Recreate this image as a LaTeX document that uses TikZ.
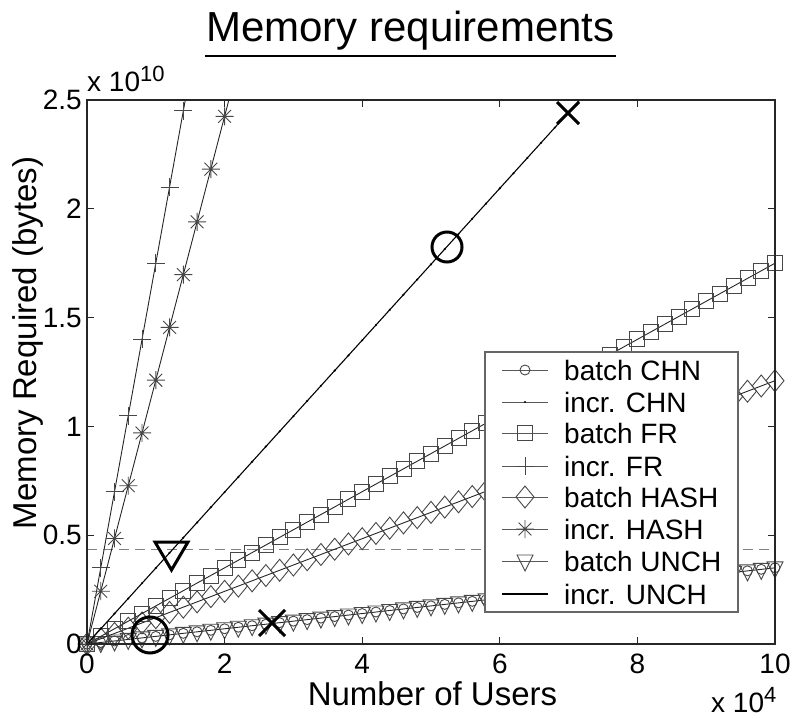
\documentclass[tikz,border=0pt]{standalone}
\usepackage{fontspec}
\setmainfont{Liberation Sans}
\begin{document}
\begin{tikzpicture}[x=1pt,y=1pt,
  dataline/.style={black!85, line width=0.9pt},
  mk/.style={black!72, line width=0.9pt},
  bigmk/.style={black, line width=3pt},
  ticklab/.style={font=\fontsize{28}{28}\selectfont, inner sep=0pt},
  leglab/.style={font=\fontsize{28}{28}\selectfont, anchor=west, inner sep=0pt},
  legline/.style={black!65, line width=0.9pt},
  mcirc/.pic={\draw[mk] (0,0) circle (5pt);},
  msq/.pic={\draw[mk] (-7.5pt,-7.5pt) rectangle (7.5pt,7.5pt);},
  mplus/.pic={\draw[mk] (-9pt,0) -- (9pt,0) (0,-9pt) -- (0,9pt);},
  mdia/.pic={\draw[mk] (-9pt,0) -- (0,11pt) -- (9pt,0) -- (0,-11pt) -- cycle;},
  mast/.pic={\draw[mk] (-9pt,0) -- (9pt,0) (0,-9pt) -- (0,9pt) (-6.4pt,-6.4pt) -- (6.4pt,6.4pt) (-6.4pt,6.4pt) -- (6.4pt,-6.4pt);},
  mtri/.pic={\draw[mk] (-8pt,6pt) -- (8pt,6pt) -- (0,-10pt) -- cycle;},
  mdot/.pic={\fill[black] (0,0) circle (1.2pt);}
]
\useasboundingbox (0,0) rectangle (792,718);

% title
\node[anchor=base, inner sep=0pt, font=\fontsize{42}{42}\selectfont] (title) at (410.5,676) {Memory requirements};
\draw[line width=2.5pt] (205,662) -- (616,662);

% data area
\begin{scope}[shift={(87,74)}, x=68.8pt, y=217.6pt]
  % dashed level
  \draw[black!50, line width=1pt, dash pattern=on 10pt off 6pt] (0,0.432) -- (10,0.432);
  % batch CHN / batch UNCH
  \draw[dataline] (0,0) -- (10,0.35);
  \foreach \i in {0,...,50} {
    \path ({0.2*\i},{0.007*\i}) pic {mtri};
    \path ({0.2*\i},{0.007*\i}) pic {mcirc};
  }
  % batch HASH
  \draw[dataline] (0,0) -- (10,1.21);
  \foreach \i in {0,...,50} { \path ({0.2*\i},{0.0242*\i}) pic {mdia}; }
  % batch FR
  \draw[dataline] (0,0) -- (10,1.75);
  \foreach \i in {0,...,50} { \path ({0.2*\i},{0.035*\i}) pic {msq}; }
  % incr FR
  \draw[dataline] (0,0) -- (1.4286,2.5);
  \foreach \i in {0,...,7} { \path ({0.2*\i},{0.35*\i}) pic {mplus}; }
  % incr HASH
  \draw[dataline] (0,0) -- (2.0619,2.5);
  \foreach \i in {0,...,10} { \path ({0.2*\i},{0.2425*\i}) pic {mast}; }
  % incr CHN / incr UNCH
  \draw[black, line width=1.1pt] (0,0) -- (7.163,2.5);
  \foreach \i in {0,...,35} { \path ({0.2*\i},{0.0698*\i}) pic {mdot}; }
  % axes box
  \draw[black!85, line width=1.2pt] (0,0) rectangle (10,2.5);
  \foreach \t in {0,2,4,6,8,10} {
    \draw[black!85, line width=1pt] (\t,0) -- ++(0,7pt);
    \draw[black!85, line width=1pt] (\t,2.5) -- ++(0,-7pt);
  }
  \foreach \t in {0,0.5,1,1.5,2,2.5} {
    \draw[black!85, line width=1pt] (0,\t) -- ++(7pt,0);
    \draw[black!85, line width=1pt] (10,\t) -- ++(-7pt,0);
  }
\end{scope}

% big highlight markers
\draw[bigmk] (557,594) -- (579,616) (557,616) -- (579,594);
\draw[bigmk] (447,471) circle (15);
\draw[bigmk] (155,176) -- (188,176) -- (171.5,148) -- cycle;
\draw[bigmk] (259,82) -- (285,108) (259,108) -- (285,82);
\draw[bigmk] (150,83) circle (18);

% tick labels
\node[ticklab, anchor=base] (xl0) at (87,45) {0};
\node[ticklab, anchor=base] (xl2) at (224.6,45) {2};
\node[ticklab, anchor=base] (xl4) at (362.2,45) {4};
\node[ticklab, anchor=base] (xl6) at (499.8,45) {6};
\node[ticklab, anchor=base] (xl8) at (637.4,45) {8};
\node[ticklab, anchor=base] (xl10) at (775,45) {10};
\node[ticklab, anchor=east] (yl0) at (82,74) {0};
\node[ticklab, anchor=east] (yl1) at (82,182.8) {0.5};
\node[ticklab, anchor=east] (yl2) at (82,291.6) {1};
\node[ticklab, anchor=east] (yl3) at (82,400.4) {1.5};
\node[ticklab, anchor=east] (yl4) at (82,509.2) {2};
\node[ticklab, anchor=east] (yl5) at (82,618) {2.5};
\node[ticklab, anchor=base west] (yexp) at (87,626) {x 10\raisebox{10pt}{\fontsize{22}{22}\selectfont 10}};
\node[ticklab, anchor=base west] (xexp) at (711,6) {x 10\raisebox{10pt}{\fontsize{22}{22}\selectfont 4}};

% axis labels
\node[anchor=base, inner sep=0pt, font=\fontsize{33}{33}\selectfont] (xlab) at (432.5,13) {Number of Users};
\node[anchor=base, inner sep=0pt, rotate=90, font=\fontsize{33}{33}\selectfont] (ylab) at (36,375) {Memory Required (bytes)};

% legend
\draw[black!60, line width=1.2pt, fill=white] (485,106) rectangle (738,366);
\draw[legline] (502,348) -- (548,348); \path (525,348) pic {mcirc};
\node[leglab] (lg1) at (564,348) {batch CHN};
\draw[legline] (502,316) -- (548,316); \path (525,316) pic {mdot};
\node[leglab] (lg2) at (564,316) {incr. CHN};
\draw[legline] (502,285) -- (548,285); \path (525,285) pic {msq};
\node[leglab] (lg3) at (564,285) {batch FR};
\draw[legline] (502,252) -- (548,252); \path (525,252) pic {mplus};
\node[leglab] (lg4) at (564,252) {incr. FR};
\draw[legline] (502,221) -- (548,221); \path (525,221) pic {mdia};
\node[leglab] (lg5) at (564,221) {batch HASH};
\draw[legline] (502,189) -- (548,189); \path (525,189) pic {mast};
\node[leglab] (lg6) at (564,189) {incr. HASH};
\draw[legline] (502,157) -- (548,157); \path (525,157) pic {mtri};
\node[leglab] (lg7) at (564,157) {batch UNCH};
\draw[black, line width=1.1pt] (502,124) -- (548,124);
\node[leglab] (lg8) at (564,124) {incr. UNCH};
\end{tikzpicture}
\end{document}
